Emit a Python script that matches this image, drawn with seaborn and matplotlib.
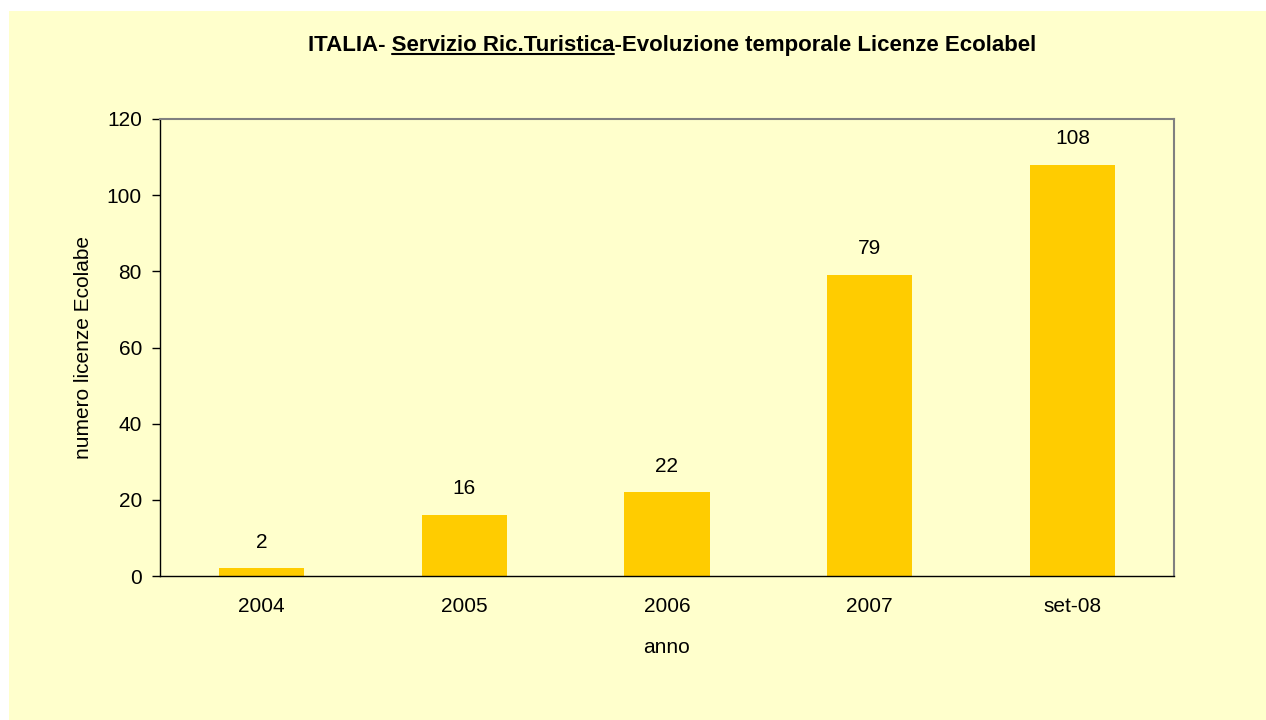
import matplotlib
matplotlib.use("Agg")
import matplotlib.pyplot as plt
import seaborn as sns
from matplotlib.patches import Rectangle
from matplotlib.lines import Line2D

# Data
anni = ["2004", "2005", "2006", "2007", "set-08"]
licenze = [2, 16, 22, 79, 108]
y_ticks = [0, 20, 40, 60, 80, 100, 120]

title_pre = "ITALIA- "
title_mid = "Servizio Ric.Turistica"
title_post = "-Evoluzione temporale Licenze Ecolabel"

bg = "#FFFFCC"
bar_color = "#FFCC00"

sns.set_style("white")
plt.rcParams["font.family"] = ["Liberation Sans", "DejaVu Sans"]
plt.rcParams["text.color"] = "black"
plt.rcParams["axes.labelcolor"] = "black"
plt.rcParams["xtick.color"] = "black"
plt.rcParams["ytick.color"] = "black"

fig = plt.figure(figsize=(12.66, 7.2), dpi=100)
fig.patch.set_facecolor("white")
# chart area background (slightly inset like the original)
fig.patches.append(Rectangle((9 / 1266, 0), 1 - 9 / 1266, 1 - 11 / 720,
                             transform=fig.transFigure, facecolor=bg,
                             edgecolor="none", zorder=-10))

ax = fig.add_axes([160 / 1266, 1 - 576 / 720, 1014 / 1266, 457 / 720])
ax.set_facecolor(bg)

sns.barplot(x=anni, y=licenze, color=bar_color, saturation=1, width=0.42,
            ax=ax, edgecolor="none")

ax.set_xlim(-0.5, len(anni) - 0.5)
ax.set_ylim(0, 120)
ax.set_yticks(y_ticks)
ax.set_yticklabels([str(v) for v in y_ticks])

# category boundaries get the tick marks, labels stay centred under bars
ax.set_xticks([i - 0.5 for i in range(len(anni) + 1)], minor=True)
ax.tick_params(axis="x", which="major", length=0, pad=15, labelsize=15, colors="black")
ax.tick_params(axis="x", which="minor", length=6, width=1, direction="out", color="black")
ax.tick_params(axis="y", length=6, width=1, direction="out", pad=7, labelsize=15,
               color="black", labelcolor="black", left=True)

for side in ["left", "bottom"]:
    ax.spines[side].set_color("black")
    ax.spines[side].set_linewidth(1)
for side in ["top", "right"]:
    ax.spines[side].set_color("#808080")
    ax.spines[side].set_linewidth(1.5)

for c in ax.containers:
    ax.bar_label(c, labels=[str(v) for v in licenze], padding=12, fontsize=15,
                 color="black")

ax.set_xlabel("anno", fontsize=15)
ax.xaxis.set_label_coords(0.5, -0.135)
ax.set_ylabel("numero licenze Ecolabe", fontsize=15)
ax.yaxis.set_label_coords(-0.066, 0.5)

# title with the middle part underlined
full = title_pre + title_mid + title_post
tsize = 16
t = fig.text(672 / 1266, 1 - 45 / 720, full, ha="center", va="center",
             fontsize=tsize, fontweight="bold")
fig.canvas.draw()
r = fig.canvas.get_renderer()
bb = t.get_window_extent(r)
probe = fig.text(0, 0, title_pre, fontsize=tsize, fontweight="bold", alpha=0)
w1 = probe.get_window_extent(r).width
probe.set_text(title_pre + title_mid)
w2 = probe.get_window_extent(r).width
probe.remove()
W, H = fig.bbox.width, fig.bbox.height
y_line = (bb.y0 + 2) / H
fig.add_artist(Line2D([(bb.x0 + w1) / W, (bb.x0 + w2) / W], [y_line, y_line],
                      transform=fig.transFigure, color="black", lw=1.5))

fig.savefig("out.png", dpi=100, facecolor=fig.get_facecolor())
